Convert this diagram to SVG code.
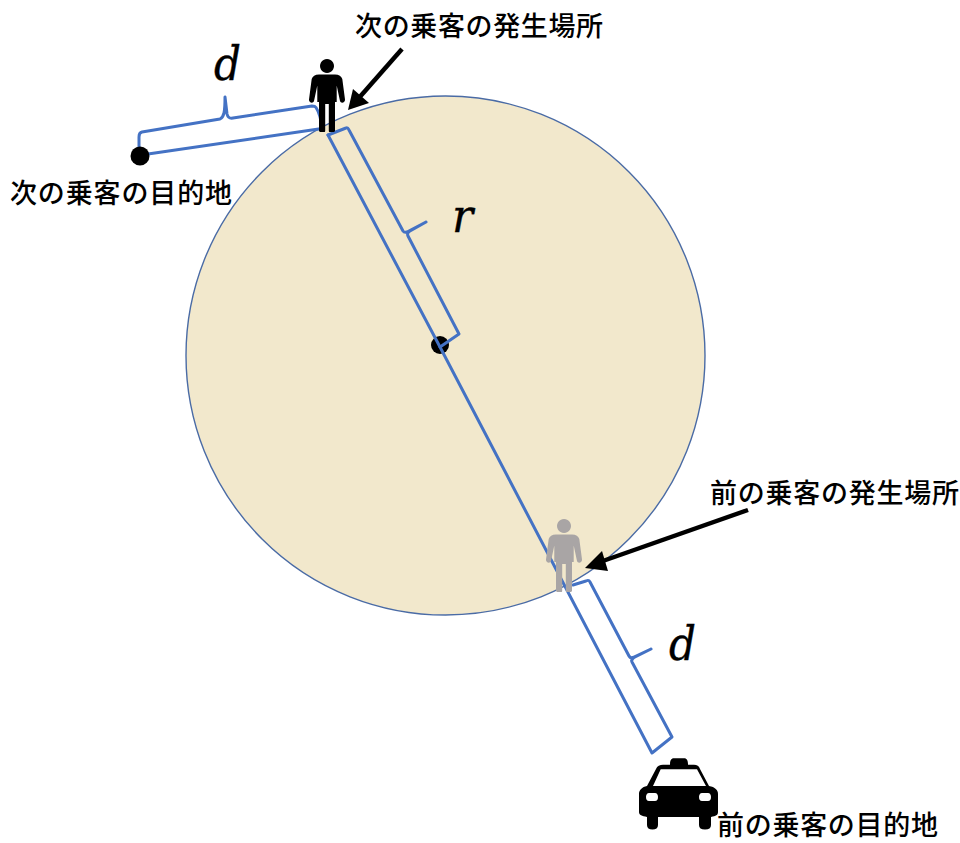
<svg xmlns="http://www.w3.org/2000/svg" width="960" height="843" viewBox="0 0 960 843">
<style>
.lbl{font-family:"Noto Sans CJK JP","Noto Sans",sans-serif;font-size:27px;font-weight:500;fill:#000}
.math{font-family:"DejaVu Serif",serif;font-style:italic;font-size:47px;fill:#000;stroke:#000;stroke-width:.4}
.br{fill:none;stroke:#4472C4;stroke-width:3;stroke-linejoin:round;stroke-linecap:round}
.arr{stroke:#000;stroke-width:4.5;fill:none}
</style>
<defs>
<symbol id="person" overflow="visible">
<path d="M0,-7a7,7 0 1 0 .01,0ZM-8,8.500H8C12,8.500 14.500,10.500 15.300,13L18,33.500C18.400,36.500 14,38 13,35L9.700,19.500V36H8V64.500C8,66 7,66 6,66H3C2,66 1.800,65.500 1.800,64.500V38H-1.800V64.500C-1.800,65.500 -2,66 -3,66H-6C-7,66 -8,66 -8,64.500V36H-9.700V19.500L-13,35C-14,38 -18.400,36.500 -18,33.500L-15.300,13C-14.500,10.500 -12,8.500 -8,8.500Z"/>
</symbol>
</defs>
<rect width="960" height="843" fill="#fff"/>
<g id="circle"><circle cx="445.500" cy="355.500" r="259.500" fill="#F2E8CC" stroke="#4A6BA5" stroke-width="1.400"/></g>
<g id="center-dot"><circle cx="440" cy="345" r="9" fill="#000"/></g>
<g id="connectors">
<path class="br" d="M148,154L322,128.500C321,119 319,112 316,107.500C315,106 314,106 312,106L233,118C230,118.500 228,118 227,114L225,97C225,112 224,117 220,119L142,132C139.500,132.500 139,134 139,137V147"/>
<path class="br" d="M328,135L440,347L652,753L672,737L632,662C631,660 633,658 635,657L651,649L634,657C632,658 630,658 629,656L590,582C589,580 588,580 586,581L573,585"/>
<path class="br" d="M328,135L346,128C347,127.500 348,128 349,130L403,231C404,232.500 405,232.500 407,232L426,222L410,231C408,232 407,234 408,236L459,334L440,347"/>
<path class="arr" d="M402,49L358,99"/>
<path d="M348,110L353,89L369,103Z" fill="#000"/>
<path class="arr" d="M748,510L600,562"/>
<path d="M585,568L602,551L608,571Z" fill="#000"/>
</g>
<g id="next-destination-dot"><circle cx="140" cy="156" r="9.500" fill="#000"/></g>
<g id="next-passenger"><use href="#person" x="327" y="66" fill="#000"/></g>
<g id="prev-passenger"><use href="#person" x="564" y="526" fill="#A9A5A5"/></g>
<g id="taxi">
<path fill-rule="evenodd" d="M674,758.300H684C686.500,758.300 688,760 688,764.700H694C697,764.700 699,766 700,769L709,786C715,787 718,790 718,794V812C718,815 716,816 711,817V825C711,828 709,829.500 705,829.500C701,829.500 699,828 699,825V817H658V825C658,828 656,829.500 652.500,829.500C649,829.500 647,828 647,825V817C642,816 639,815 639,812V794C639,790 642,787 647,786L656,769C657,766 660,764.700 663,764.700H670C670,760 671.500,758.300 674,758.300ZM660.700,769.300L653,786H706L697,769.300ZM649,793C647,793 646,795 646,797C646,799.500 647,801 649,801H655C657,801 658,799.500 658,797C658,795 657,793 655,793ZM702,793C700,793 699,795 699,797C699,799.500 700,801 702,801H708C710,801 711,799.500 711,797C711,795 710,793 708,793Z"/>
</g>
<g id="labels">
<text class="lbl" x="355" y="36" textLength="248" lengthAdjust="spacing">次の乗客の発生場所</text>
<text class="lbl" x="10" y="203" textLength="222" lengthAdjust="spacing">次の乗客の目的地</text>
<text class="lbl" x="710" y="503" textLength="249" lengthAdjust="spacing">前の乗客の発生場所</text>
<text class="lbl" x="717" y="835" textLength="221" lengthAdjust="spacing">前の乗客の目的地</text>
<text class="math" x="214" y="80" textLength="27" lengthAdjust="spacingAndGlyphs">d</text>
<text class="math" x="452" y="232" textLength="21" lengthAdjust="spacingAndGlyphs">r</text>
<text class="math" x="669" y="660" textLength="27" lengthAdjust="spacingAndGlyphs">d</text>
</g>
</svg>
